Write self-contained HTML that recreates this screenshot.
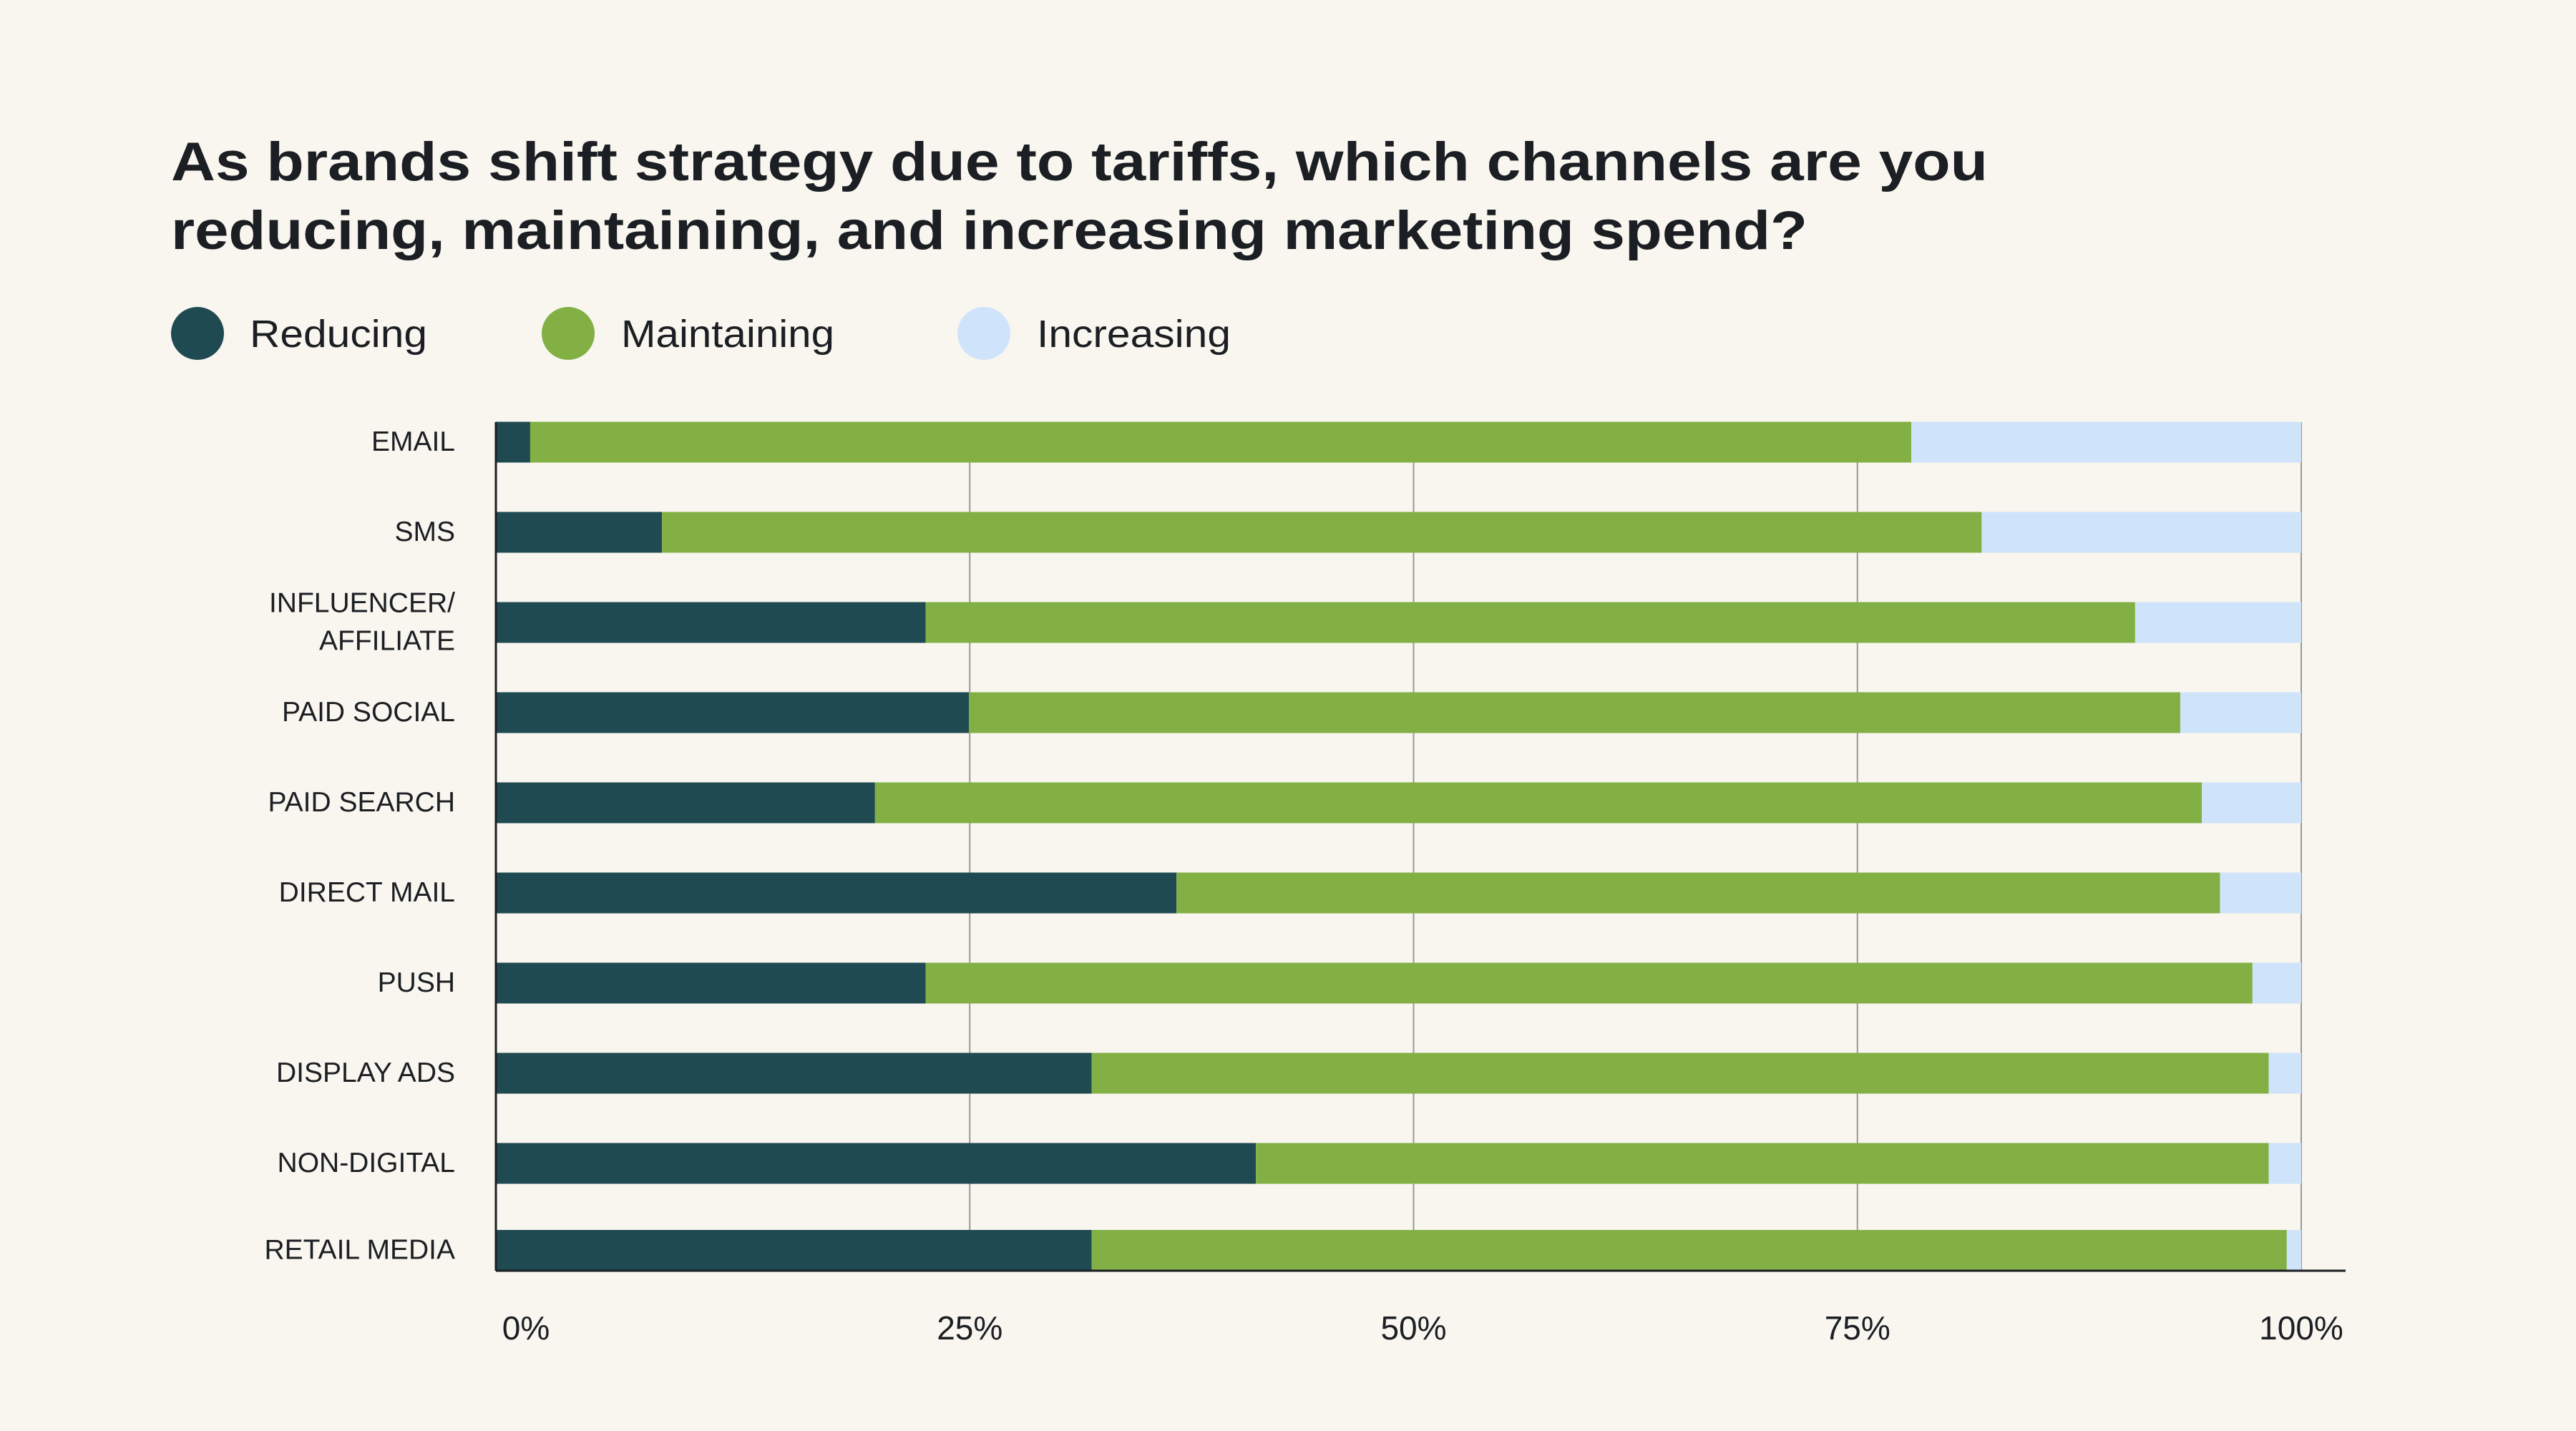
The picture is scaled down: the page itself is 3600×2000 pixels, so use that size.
<!DOCTYPE html>
<html><head><meta charset="utf-8"><style>
html,body{margin:0;padding:0;background:#f9f6ef;}
svg{display:block;font-family:"Liberation Sans",sans-serif;}
</style></head><body>
<svg id="chart" width="3600" height="2000" viewBox="0 0 3600 2000">
<rect x="0" y="0" width="3600" height="2000" fill="#f9f6ef"/>
<g fill="#1b1f23" font-weight="bold" font-size="76">
<text x="239" y="252" textLength="2539" lengthAdjust="spacingAndGlyphs">As brands shift strategy due to tariffs, which channels are you</text>
<text x="239" y="348" textLength="2287" lengthAdjust="spacingAndGlyphs">reducing, maintaining, and increasing marketing spend?</text>
</g>
<g font-size="54" fill="#1b1f23">
<g><circle cx="276" cy="466" r="37" fill="#1f4a52"/><text x="349" y="485" textLength="248" lengthAdjust="spacingAndGlyphs">Reducing</text></g>
<g><circle cx="794" cy="466" r="37" fill="#82b045"/><text x="868" y="485" textLength="298" lengthAdjust="spacingAndGlyphs">Maintaining</text></g>
<g><circle cx="1375" cy="466" r="37" fill="#cfe4fa"/><text x="1449" y="485" textLength="271" lengthAdjust="spacingAndGlyphs">Increasing</text></g>
</g>
<g id="grid"></g>
<g id="bars"></g>
<g id="axes"></g>
<g id="ylabels"></g>
<g id="xlabels"></g>
</svg>
<script>
const categories = ["EMAIL","SMS","INFLUENCER/|AFFILIATE","PAID SOCIAL","PAID SEARCH","DIRECT MAIL","PUSH","DISPLAY ADS","NON-DIGITAL","RETAIL MEDIA"];
const reducing = [1.9, 9.2, 23.8, 26.2, 21.0, 37.7, 23.8, 33.0, 42.1, 33.0];
const maintaining = [76.5, 73.1, 67.0, 67.1, 73.5, 57.8, 73.5, 65.2, 56.1, 66.2];
const increasing = [21.6, 17.7, 9.2, 6.7, 5.5, 4.5, 2.7, 1.8, 1.8, 0.8];
const tickValues = [0, 25, 50, 75, 100];
const tickLabels = ["0%","25%","50%","75%","100%"];

const NS = "http://www.w3.org/2000/svg";
const X0 = 693, X1 = 3216, G0 = 735, AXIS_Y = 1776, BAR_H = 57;
function xScale(v){ return X0 + (X1 - X0) * v / 100; }
function gScale(v){ return G0 + (X1 - G0) * v / 100; }
function yCenter(i){ return i === categories.length - 1 ? AXIS_Y - BAR_H/2 : 618 + i * 126; }
function mk(tag, attrs, parent){ const e = document.createElementNS(NS, tag); for (const k in attrs) e.setAttribute(k, attrs[k]); parent.appendChild(e); return e; }

const grid = document.getElementById('grid');
tickValues.forEach((t, j) => {
  if (t === 0) return;
  const l = mk('line', {x1: gScale(t), x2: gScale(t), y1: 590, y2: AXIS_Y, stroke: '#999', 'stroke-width': 2}, grid);
  
  
});

const bars = document.getElementById('bars');
const series = [[reducing, '#1f4a52', 'reducing'], [maintaining, '#82b045', 'maintaining'], [increasing, '#cfe4fa', 'increasing']];
categories.forEach((c, i) => {
  let cum = 0;
  const yc = yCenter(i);
  series.forEach(([vals, col, nm]) => {
    const v = vals[i];
    const r = mk('rect', {x: xScale(cum), y: yc - BAR_H/2, width: xScale(cum + v) - xScale(cum), height: BAR_H, fill: col}, bars);
    
    
    cum += v;
  });
  const parts = c.split('|');
  const lab = mk('text', {x: 636, 'text-anchor': 'end', 'font-size': 39, fill: '#1b1f23'}, document.getElementById('ylabels'));
  
  
  parts.forEach((p, k) => {
    const ts = mk('tspan', {x: 636, y: yc + 12 + (k - (parts.length - 1) / 2) * 53}, lab);
    ts.textContent = p;
  });
});

const axes = document.getElementById('axes');
const ya = mk('line', {x1: X0, x2: X0, y1: 590, y2: AXIS_Y, stroke: '#1b1f23', 'stroke-width': 3}, axes);


const xa = mk('line', {x1: X0, x2: 3278, y1: AXIS_Y, y2: AXIS_Y, stroke: '#1b1f23', 'stroke-width': 3}, axes);



const xl = document.getElementById('xlabels');
tickValues.forEach((t, j) => {
  const tx = mk('text', {x: gScale(t), y: 1872, 'text-anchor': 'middle', 'font-size': 46, fill: '#1b1f23'}, xl);
  tx.textContent = tickLabels[j];
  
  
});
</script>
</body></html>
